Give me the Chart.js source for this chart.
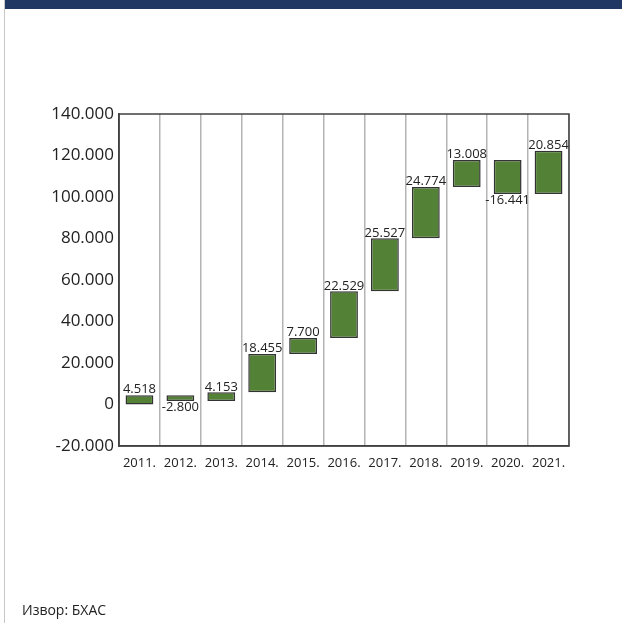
<!DOCTYPE html>
<html>
<head>
<meta charset="utf-8">
<script src="https://cdn.jsdelivr.net/npm/chart.js@4/dist/chart.umd.min.js"></script>
<style>
    html, body { margin: 0; padding: 0; background: #fff; }
    body { width: 622px; height: 623px; position: relative; overflow: hidden; font-family: 'Open Sans', sans-serif; }
    .header { position: absolute; left: 5px; top: 0; width: 617px; height: 9px; background: #1f3864; }
    .frame { position: absolute; left: 4px; top: 0; width: 1px; height: 623px; background: #c8c8c8; }
    .chart-box { position: absolute; left: 0; top: 0; width: 622px; height: 623px; }
    .source { position: absolute; left: 22px; top: 600px; font-size: 14px; color: #222; }
</style>
</head>
<body>
<div class="header"></div>
<div class="frame"></div>
<div class="chart-box"><canvas id="waterfall-chart"></canvas></div>
<div class="source">Извор: БХАС</div>
<script>
const years = ['2011.', '2012.', '2013.', '2014.', '2015.', '2016.', '2017.', '2018.', '2019.', '2020.', '2021.'];
const changes = [4518, -2800, 4153, 18455, 7700, 22529, 25527, 24774, 13008, -16441, 20854];
const yTicks = [-20000, 0, 20000, 40000, 60000, 80000, 100000, 120000, 140000];

function formatNumber(value) {
    const sign = value < 0 ? '-' : '';
    return sign + String(Math.abs(value)).replace(/\B(?=(\d{3})+(?!\d))/g, '.');
}

// floating bars: each bar runs from the previous total to the new total
function buildRanges() {
    let total = 0;
    return changes.map((change) => {
        const start = total;
        total += change;
        return [start, total];
    });
}

const framePlugin = {
    id: 'frame',
    afterDraw(chart) {
        const { ctx, chartArea } = chart;
        ctx.save();
        ctx.strokeStyle = '#404040';
        ctx.lineWidth = 1.5;
        ctx.strokeRect(chartArea.left, chartArea.top, chartArea.right - chartArea.left, chartArea.bottom - chartArea.top);
        ctx.restore();
    },
};

const valueLabels = {
    id: 'valueLabels',
    afterDatasetsDraw(chart) {
        const { ctx } = chart;
        const meta = chart.getDatasetMeta(0);
        ctx.save();
        ctx.font = '13px "Open Sans"';
        ctx.fillStyle = '#222';
        ctx.textAlign = 'center';
        meta.data.forEach((bar, i) => {
            const change = changes[i];
            const top = Math.min(bar.y, bar.base);
            const bottom = Math.max(bar.y, bar.base);
            if (change >= 0) {
                ctx.textBaseline = 'bottom';
                ctx.fillText(formatNumber(change), bar.x, top + 1);
            } else {
                ctx.textBaseline = 'top';
                ctx.fillText(formatNumber(change), bar.x, bottom);
            }
        });
        ctx.restore();
    },
};

function createWaterfallChart(canvas) {
    return new Chart(canvas, {
        type: 'bar',
        data: {
            labels: years,
            datasets: [
                {
                    data: buildRanges(),
                    backgroundColor: '#538135',
                    borderColor: '#333333',
                    borderWidth: 1.5,
                    borderSkipped: false,
                    categoryPercentage: 1,
                    barPercentage: 0.68,
                },
            ],
        },
        options: {
            responsive: true,
            maintainAspectRatio: false,
            animation: false,
            layout: {
                padding: { top: 114, bottom: 147, left: 0, right: 53 },
            },
            plugins: {
                legend: { display: false },
                tooltip: { enabled: false },
            },
            scales: {
                y: {
                    min: -20000,
                    max: 140000,
                    afterFit(scale) {
                        scale.width = 119;
                    },
                    afterBuildTicks(scale) {
                        scale.ticks = yTicks.map((v) => ({ value: v }));
                    },
                    grid: { display: false, drawTicks: false, tickLength: 0 },
                    border: { color: '#404040', width: 1.5 },
                    ticks: {
                        color: '#222',
                        padding: 5,
                        font: { family: 'Open Sans', size: 17 },
                        callback(value) {
                            return formatNumber(value);
                        },
                    },
                },
                x: {
                    afterFit(scale) {
                        scale.height = 30;
                    },
                    grid: {
                        display: true,
                        color: '#b4b4b4',
                        lineWidth: 1.5,
                        drawTicks: false,
                    },
                    border: { color: '#404040', width: 1.5 },
                    ticks: {
                        color: '#222',
                        padding: 9,
                        maxRotation: 0,
                        autoSkip: false,
                        font: { family: 'Open Sans', size: 13 },
                    },
                },
            },
        },
        plugins: [framePlugin, valueLabels],
    });
}

createWaterfallChart(document.getElementById('waterfall-chart'));
</script>
</body>
</html>
